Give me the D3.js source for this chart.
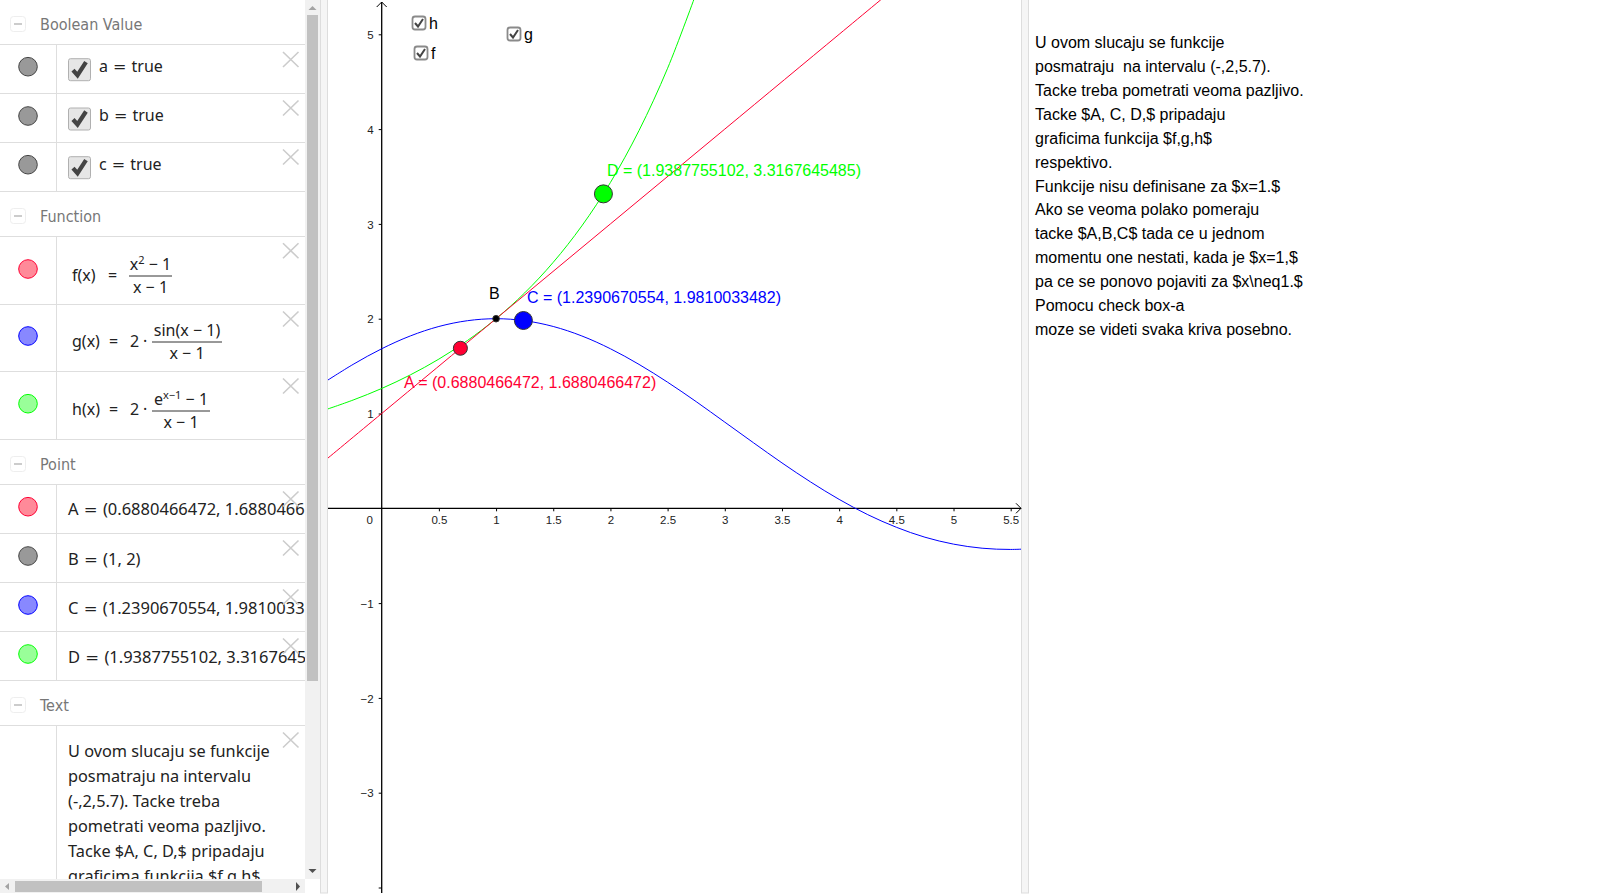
<!DOCTYPE html>
<html>
<head>
<meta charset="utf-8">
<script src="https://cdn.jsdelivr.net/npm/d3@7"></script>
<style>
  html, body { margin: 0; padding: 0; background: #fff; overflow: hidden; }
  text { white-space: pre; }
  .plot text { font-family: "Liberation Sans", Arial, sans-serif; }
  .panel text { font-family: "Noto Sans", sans-serif; }
  .panel text.head { font-family: "DejaVu Sans", sans-serif; font-stretch: condensed; }
  .panel tspan.eq { font-family: "DejaVu Sans", sans-serif; }
</style>
</head>
<body>
<svg id="chart" width="1600" height="896"></svg>
<script>
'use strict';

// values
var xTicks = [0.5, 1, 1.5, 2, 2.5, 3, 3.5, 4, 4.5, 5, 5.5];
var yTicks = [-4, -3, -2, -1, 1, 2, 3, 4, 5];
var yTickLabels = ['', '\u22123', '\u22122', '\u22121', '1', '2', '3', '4', '5'];

var fSeries = [[-0.5, 0.5], [0, 1], [1, 2], [2, 3], [3, 4], [4, 5], [4.5, 5.5]];

var gX = [-0.5, -0.25, 0, 0.25, 0.5, 0.75, 1, 1.25, 1.5, 1.75, 2, 2.25, 2.5, 2.75, 3, 3.25, 3.5, 3.75, 4, 4.25, 4.5, 4.75, 5, 5.25, 5.5, 5.75];
var gY = [1.33, 1.518, 1.683, 1.818, 1.918, 1.979, 2, 1.979, 1.918, 1.818, 1.683, 1.518, 1.33, 1.125, 0.909, 0.692, 0.479, 0.278, 0.094, -0.067, -0.2, -0.305, -0.378, -0.421, -0.434, -0.421];

var hX = [-0.5, -0.25, 0, 0.25, 0.5, 0.75, 1, 1.25, 1.5, 1.75, 2, 2.25, 2.5, 2.75];
var hY = [1.036, 1.142, 1.264, 1.407, 1.574, 1.77, 2, 2.272, 2.595, 2.979, 3.437, 3.985, 4.642, 5.434];

var pointNames = ['A', 'B', 'C', 'D'];
var pointX = [0.6880466472, 1, 1.2390670554, 1.9387755102];
var pointY = [1.6880466472, 2, 1.9810033482, 3.3167645485];
var pointLabels = ['A = (0.6880466472, 1.6880466472)', 'B', 'C = (1.2390670554, 1.9810033482)', 'D = (1.9387755102, 3.3167645485)'];

var booleanLabels = ['a = true', 'b = true', 'c = true'];
var plotChecks = ['h', 'f', 'g'];

// the list rows are cut off by the panel edge, only the visible part is kept
var pointRows = ['A = (0.6880466472, 1.6880466', 'B = (1, 2)', 'C = (1.2390670554, 1.9810033', 'D = (1.9387755102, 3.3167645'];

var noteLines = [
    'U ovom slucaju se funkcije',
    'posmatraju  na intervalu (-,2,5.7).',
    'Tacke treba pometrati veoma pazljivo.',
    'Tacke $A, C, D,$ pripadaju',
    'graficima funkcija $f,g,h$',
    'respektivo.',
    'Funkcije nisu definisane za $x=1.$',
    'Ako se veoma polako pomeraju',
    'tacke $A,B,C$ tada ce u jednom',
    'momentu one nestati, kada je $x=1,$',
    'pa ce se ponovo pojaviti za $x\\neq1.$',
    'Pomocu check box-a',
    'moze se videti svaka kriva posebno.'
];

var listNoteLines = [
    'U ovom slucaju se funkcije',
    'posmatraju na intervalu',
    '(-,2,5.7). Tacke treba',
    'pometrati veoma pazljivo.',
    'Tacke $A, C, D,$ pripadaju',
    'graficima funkcija $f,g,h$'
];

var RED = '#ff0033', BLUE = '#0000ff', GREEN = '#00ff00';
var svg = d3.select('#chart');

/* ---------- algebra panel ---------- */
var panel = svg.append('g').attr('class', 'panel');
var defs = svg.append('defs');
defs.append('clipPath').attr('id', 'panelClip')
    .append('rect').attr('x', 0).attr('y', 0).attr('width', 305).attr('height', 879);
defs.append('clipPath').attr('id', 'plotClip')
    .append('rect').attr('x', 328).attr('y', 0).attr('width', 693).attr('height', 896);

var list = panel.append('g').attr('clip-path', 'url(#panelClip)');

function header(label, y, lineY) {
    list.append('rect').attr('x', 10.5).attr('y', y - 7.5).attr('width', 15).attr('height', 15).attr('rx', 3)
        .attr('fill', '#fff').attr('stroke', '#eeeeee');
    list.append('line').attr('x1', 14).attr('x2', 22).attr('y1', y).attr('y2', y).attr('stroke', '#bbb').attr('stroke-width', 1.5);
    list.append('text').attr('class', 'head').attr('x', 40).attr('y', y + 5.5).attr('fill', '#777').attr('font-size', 16).text(label);
    list.append('line').attr('x1', 0).attr('x2', 305).attr('y1', lineY).attr('y2', lineY).attr('stroke', '#dedede');
}

function marble(cy, fill, stroke) {
    list.append('circle').attr('cx', 28).attr('cy', cy).attr('r', 9.3)
        .attr('fill', fill).attr('stroke', stroke).attr('stroke-width', 1);
}

function closeIcon(cy) {
    list.append('path').attr('d', 'M283,' + (cy - 7.5) + 'L298.5,' + (cy + 7.5) + 'M298.5,' + (cy - 7.5) + 'L283,' + (cy + 7.5))
        .attr('stroke', '#cccccc').attr('stroke-width', 1.6).attr('fill', 'none');
}

// "=" is drawn wider than the math font has it, like in the original rows
function rowText(x, y, s, size) {
    var t = list.append('text').attr('x', x).attr('y', y).attr('fill', '#222').attr('font-size', size || 16);
    var parts = s.split(' = ');
    t.append('tspan').text(parts[0]);
    if (parts.length > 1) {
        t.append('tspan').attr('class', 'eq').text(' = ');
        t.append('tspan').text(parts[1]);
    }
    return t;
}

function rowLine(y) {
    list.append('line').attr('x1', 0).attr('x2', 305).attr('y1', y).attr('y2', y).attr('stroke', '#dedede');
}

// vertical separator of the rows, broken at the section headers
[[44, 191], [236, 439], [484, 680], [725, 880]].forEach(function (s) {
    list.append('line').attr('x1', 56.5).attr('x2', 56.5).attr('y1', s[0]).attr('y2', s[1]).attr('stroke', '#dedede');
});

header('Boolean Value', 24, 44.5);
header('Function', 216, 236.5);
header('Point', 464, 484.5);
header('Text', 705, 725.5);

// boolean rows
var boolCy = [66.7, 116, 164.7], boolLine = [93.5, 142.5, 191.5], boolClose = [59.5, 108, 157];
booleanLabels.forEach(function (label, i) {
    rowLine(boolLine[i]);
    marble(boolCy[i], '#999999', '#444');
    closeIcon(boolClose[i]);
    var cb = list.append('g').attr('transform', 'translate(68,' + (boolCy[i] - 8.5) + ')');
    cb.append('rect').attr('x', 0.5).attr('y', 0.5).attr('width', 22).attr('height', 22).attr('rx', 2)
        .attr('fill', '#e6e6e6').attr('stroke', '#b0b0b0');
    cb.append('path').attr('d', 'M5,12 L9.5,17 L18,4').attr('fill', 'none').attr('stroke', '#444').attr('stroke-width', 4.2);
    rowText(99, boolCy[i] + 5, label);
});

// function rows
[304.5, 371.5, 439.5].forEach(rowLine);
marble(269, '#ff8a99', RED);
marble(336, '#8888ff', BLUE);
marble(403.7, '#99ff99', GREEN);
closeIcon(250.7); closeIcon(319); closeIcon(386);

function fraction(x1, x2, lineY, num, den) {
    var mid = (x1 + x2) / 2;
    list.append('line').attr('x1', x1).attr('x2', x2).attr('y1', lineY).attr('y2', lineY).attr('stroke', '#333').attr('stroke-width', 1);
    var n = list.append('text').attr('x', mid).attr('y', lineY - 6).attr('text-anchor', 'middle')
        .attr('fill', '#222').attr('font-size', 16);
    num.forEach(function (p) {
        n.append('tspan').attr('font-size', p[1] ? 11 : 16).attr('dy', p[1] ? -6 : (p[2] ? 6 : 0)).text(p[0]);
    });
    list.append('text').attr('x', mid).attr('y', lineY + 17).attr('text-anchor', 'middle')
        .attr('fill', '#222').attr('font-size', 16).text(den);
}

rowText(72, 281, 'f(x)'); rowText(108, 281, '='); 
fraction(129, 172, 276, [['x'], ['2', 1], [' \u2212 1', 0, 1]], 'x \u2212 1');

rowText(72, 347, 'g(x)'); rowText(109, 347, '='); rowText(130, 347, '2'); rowText(143, 347, '\u00b7');
fraction(152, 222, 342, [['sin(x \u2212 1)']], 'x \u2212 1');

rowText(72, 415, 'h(x)'); rowText(109, 415, '='); rowText(130, 415, '2'); rowText(143, 415, '\u00b7');
fraction(152, 210, 411, [['e'], ['x\u22121', 1], [' \u2212 1', 0, 1]], 'x \u2212 1');

// point rows
var ptCy = [506.7, 556, 605, 654], ptLine = [533.5, 582.5, 631.5, 680.5], ptClose = [499, 548, 597, 646];
var ptFill = ['#ff8a99', '#999999', '#8888ff', '#99ff99'], ptStroke = [RED, '#444', BLUE, GREEN];
pointRows.forEach(function (label, i) {
    rowLine(ptLine[i]);
    marble(ptCy[i], ptFill[i], ptStroke[i]);
    rowText(68, ptCy[i] + 8.5, label, 16.5);
    closeIcon(ptClose[i]);
});

// text row
closeIcon(740);
listNoteLines.forEach(function (line, i) {
    rowText(68, 756.7 + i * 25, line, 16.3);
});

// panel scrollbars
panel.append('rect').attr('x', 305).attr('y', 0).attr('width', 15).attr('height', 879).attr('fill', '#f1f1f1');
panel.append('rect').attr('x', 307).attr('y', 15).attr('width', 11).attr('height', 666).attr('fill', '#c1c1c1');
panel.append('path').attr('d', 'M308.5,10 L312.5,6 L316.5,10 Z').attr('fill', '#a3a3a3');
panel.append('path').attr('d', 'M308.5,869 L312.5,873 L316.5,869 Z').attr('fill', '#505050');
panel.append('rect').attr('x', 0).attr('y', 879).attr('width', 305).attr('height', 14).attr('fill', '#f1f1f1');
panel.append('rect').attr('x', 15).attr('y', 881).attr('width', 247).attr('height', 11).attr('fill', '#c1c1c1');
panel.append('path').attr('d', 'M9,883 L5,886.5 L9,890 Z').attr('fill', '#a3a3a3');
panel.append('path').attr('d', 'M296,882 L300,886.5 L296,891 Z').attr('fill', '#505050');

// dividers between the views
[320, 1021].forEach(function (dx) {
    svg.append('rect').attr('x', dx + 0.5).attr('y', -1).attr('width', 7).attr('height', 894)
        .attr('fill', '#f5f5f5').attr('stroke', '#dddddd');
});

/* ---------- graphics view ---------- */
var x = d3.scaleLinear().domain([0, 5.5]).range([381.7, 1010.7]);
var y = d3.scaleLinear().domain([0, 5]).range([508.3, 34.3]);

var plot = svg.append('g').attr('class', 'plot');

var xAxis = d3.axisBottom(x).tickValues(xTicks).tickSize(3).tickPadding(5).tickFormat(d3.format('~g'));
var yAxis = d3.axisLeft(y).tickValues(yTicks).tickSize(3).tickPadding(5)
    .tickFormat(function (d, i) { return yTickLabels[i]; });

var xg = plot.append('g').attr('transform', 'translate(0,' + y(0) + ')').call(xAxis);
var yg = plot.append('g').attr('transform', 'translate(' + x(0) + ',0)').call(yAxis);
[xg, yg].forEach(function (g) {
    g.select('.domain').remove();
    g.selectAll('.tick line').attr('stroke', '#000');
    g.selectAll('.tick text').attr('fill', '#222').attr('font-size', 11.5)
        .attr('font-family', '"Liberation Sans", Arial, sans-serif');
});
yg.selectAll('.tick text').attr('dy', '0.36em');
plot.append('text').attr('x', x(0) - 12).attr('y', y(0) + 16).attr('text-anchor', 'middle')
    .attr('fill', '#222').attr('font-size', 11.5).text('0');

plot.append('line').attr('x1', 328).attr('x2', 1021).attr('y1', y(0)).attr('y2', y(0)).attr('stroke', '#000').attr('stroke-width', 1.3);
plot.append('line').attr('x1', x(0)).attr('x2', x(0)).attr('y1', 2).attr('y2', 893).attr('stroke', '#000').attr('stroke-width', 1.3);
plot.append('path').attr('d', 'M1016,' + (y(0) - 5) + 'L1021,' + y(0) + 'L1016,' + (y(0) + 5)).attr('fill', 'none').attr('stroke', '#000');
plot.append('path').attr('d', 'M' + (x(0) - 5) + ',7L' + x(0) + ',2L' + (x(0) + 5) + ',7').attr('fill', 'none').attr('stroke', '#000');

var curve = d3.line()
    .x(function (d) { return x(d[0]); })
    .y(function (d) { return y(d[1]); })
    .curve(d3.curveCatmullRom);

var curves = plot.append('g').attr('clip-path', 'url(#plotClip)');
[[d3.zip(gX, gY), BLUE], [d3.zip(hX, hY), GREEN], [fSeries, RED]].forEach(function (c) {
    curves.append('path').attr('d', curve(c[0])).attr('fill', 'none').attr('stroke', c[1]).attr('stroke-width', 1);
});

// point labels
var labelPos = [[404, 388, RED], [489, 299, '#000'], [527, 303, BLUE], [607, 176, GREEN]];
pointLabels.forEach(function (label, i) {
    plot.append('text').attr('x', labelPos[i][0]).attr('y', labelPos[i][1]).attr('fill', labelPos[i][2])
        .attr('font-size', 16).text(label);
});

// points
var pointR = [7, 3.3, 9, 9], pointFill = [RED, '#000', BLUE, GREEN];
pointNames.forEach(function (name, i) {
    plot.append('circle').attr('cx', x(pointX[i])).attr('cy', y(pointY[i])).attr('r', pointR[i])
        .attr('fill', pointFill[i]).attr('stroke', '#333').attr('stroke-width', 1);
});

// check boxes inside the view
var checkPos = [[412, 16, 429, 29], [414, 46, 431, 59], [507, 27, 524, 40]];
plotChecks.forEach(function (name, i) {
    var p = checkPos[i];
    var g = plot.append('g').attr('transform', 'translate(' + p[0] + ',' + p[1] + ')');
    g.append('rect').attr('x', 0.5).attr('y', 0.5).attr('width', 13).attr('height', 13).attr('rx', 2.5)
        .attr('fill', '#fff').attr('stroke', '#8a8a8a').attr('stroke-width', 1.8);
    g.append('path').attr('d', 'M3,7 L6,10.5 L11,3').attr('fill', 'none').attr('stroke', '#444').attr('stroke-width', 2);
    plot.append('text').attr('x', p[2]).attr('y', p[3]).attr('fill', '#000').attr('font-size', 16).text(name);
});

/* ---------- text on the right ---------- */
plot.selectAll('text.note').data(noteLines).enter().append('text')
    .attr('class', 'note')
    .attr('x', 1035)
    .attr('y', function (d, i) { return 48 + i * 23.92; })
    .attr('fill', '#000')
    .attr('font-size', 16)
    .text(function (d) { return d; });
</script>
</body>
</html>
